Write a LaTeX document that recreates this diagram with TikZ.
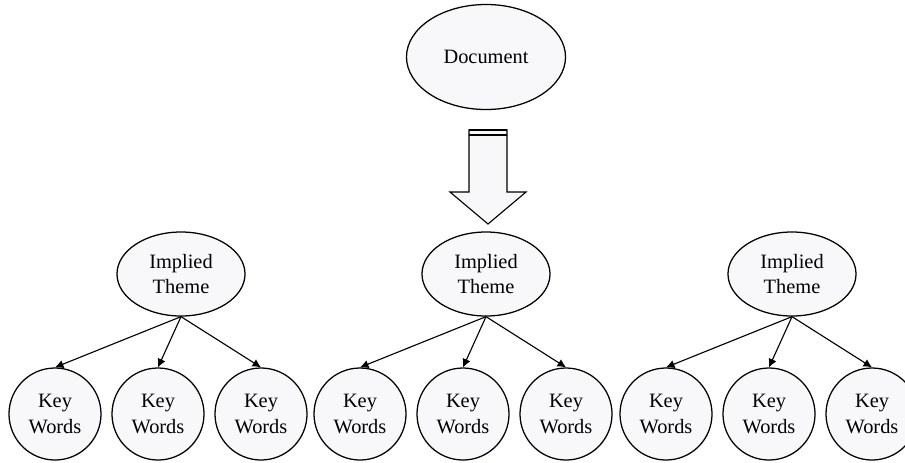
\documentclass[tikz,border=0pt]{standalone}
\usepackage{fontspec}
\setmainfont{Liberation Serif}
\usetikzlibrary{arrows.meta,shapes.geometric}
\definecolor{relleno}{HTML}{F8F8FB}
\tikzset{
  elipse/.style={draw, ellipse, fill=relleno, line width=0.9pt, inner sep=0pt,
    align=center, font=\fontsize{14.5}{18}\selectfont},
  clave/.style={draw, circle, fill=relleno, line width=0.9pt, inner sep=0pt,
    minimum size=2.3cm, align=center, font=\fontsize{14.5}{18}\selectfont},
  flecha/.style={line width=0.8pt, -{Latex[length=6pt,width=6pt]}}
}
\begin{document}
\begin{tikzpicture}[x=0.025cm,y=-0.025cm]
            \useasboundingbox (0,0) rectangle (905,462);
            \clip (0,0) rectangle (905,462);

            % Documento
            \node[elipse, minimum width=3.975cm, minimum height=2.625cm] (doc) at (486,57) {Document};

            % Flecha gruesa
            \draw[fill=relleno, line width=0.8pt] (469,130) -- (507,130) -- (507,192) -- (526,192)
                -- (488,224) -- (450,192) -- (469,192) -- cycle;
            \draw[line width=1.5pt] (469,130) -- (507,130);
            \draw[line width=0.8pt] (469,135) -- (507,135);

            % Temas implicitos y palabras clave
            \foreach \i/\x in {1/181, 2/486, 3/792} {
                \node[elipse, minimum width=3.2cm, minimum height=2.1cm] (tema\i) at (\x,274) {Implied\\Theme};
                \foreach \j/\dx in {1/-126, 2/-23, 3/80} {
                    \node[clave] (kw\i\j) at (\x+\dx,414) {Key\\Words};
                    \draw[flecha] (tema\i.south) -- (kw\i\j.north);
                }
            }
\end{tikzpicture}
\end{document}
